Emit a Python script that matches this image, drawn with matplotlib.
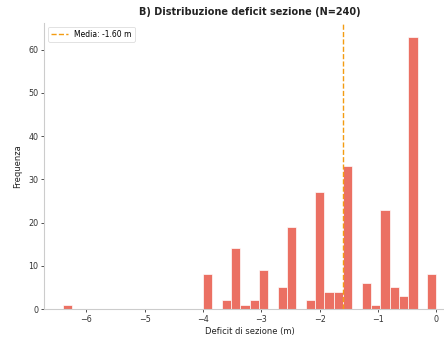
import matplotlib
matplotlib.use("Agg")
import matplotlib.pyplot as plt
import numpy as np

bin_edges = np.round(np.arange(-6.4, 0.0001, 0.16), 2)
counts = [1, 0, 0, 0, 0, 0, 0, 0, 0, 0, 0, 0, 0, 0, 0,
          8, 0, 2, 14, 1, 2, 9, 0, 5, 19, 0, 2, 27, 4, 4, 33, 0, 6, 1, 23, 5, 3, 63, 0, 8]
mean_val = -1.60
n_total = 240

fig = plt.figure(figsize=(4.44, 3.37), dpi=100)
ax = fig.add_axes([0.100, 0.083, 0.925, 0.849])

centers = (bin_edges[:-1] + bin_edges[1:]) / 2
ax.hist(centers, bins=bin_edges, weights=counts, color='#e74c3c', alpha=0.8,
        edgecolor='white', linewidth=0.6)
ax.axvline(mean_val, color='#f39c12', linestyle='--', linewidth=1.0,
           label=f'Media: {mean_val:.2f} m')

ax.set_xlim(-6.72, 0.32)
ax.set_ylim(0, 66.15)
ax.set_xticks([-6, -5, -4, -3, -2, -1, 0])
ax.set_yticks([0, 10, 20, 30, 40, 50, 60])
ax.tick_params(labelsize=5.8, length=2.5, width=0.6, colors='#333333', pad=2)
for s in ['top', 'right']:
    ax.spines[s].set_visible(False)
for s in ['left', 'bottom']:
    ax.spines[s].set_color('#cccccc')
    ax.spines[s].set_linewidth(0.8)

ax.set_xlabel('Deficit di sezione (m)', fontsize=6, labelpad=2, color='#222222')
ax.set_ylabel('Frequenza', fontsize=6, labelpad=4, color='#222222')
ax.set_title(f'B) Distribuzione deficit sezione (N={n_total})', fontsize=7,
             fontweight='bold', pad=6, color='#222222')
leg = ax.legend(loc='upper left', fontsize=5.5, frameon=True, handlelength=2.2)
leg.get_frame().set_linewidth(0.5)

fig.savefig('out.png', dpi=100)
